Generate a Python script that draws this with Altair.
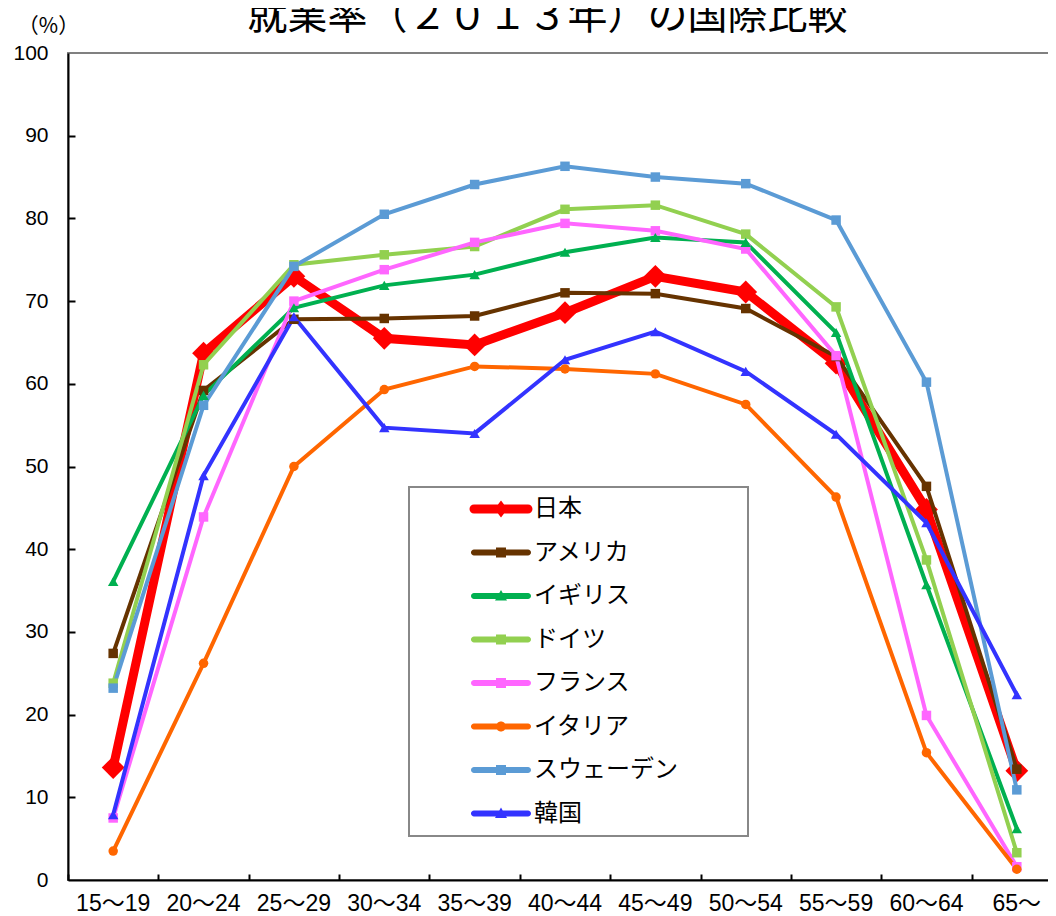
import altair as alt
import pandas as pd

title_text = "就業率（２０１３年）の国際比較"
countries = ["日本", "アメリカ", "イギリス", "ドイツ", "フランス", "イタリア", "スウェーデン", "韓国"]
ages = ["15～19", "20～24", "25～29", "30～34", "35～39", "40～44", "45～49", "50～54", "55～59", "60～64", "65～"]

japan   = [13.6, 63.7, 73.0, 65.5, 64.7, 68.6, 73.0, 71.1, 62.5, 44.8, 13.2]
usa     = [27.4, 59.2, 67.8, 67.9, 68.2, 71.0, 70.9, 69.1, 63.3, 47.6, 13.4]
uk      = [36.1, 58.6, 69.2, 71.9, 73.2, 75.9, 77.7, 77.1, 66.2, 35.7, 6.2]
germany = [23.8, 62.3, 74.4, 75.6, 76.6, 81.1, 81.6, 78.1, 69.3, 38.7, 3.3]
france  = [7.5, 43.9, 70.0, 73.8, 77.1, 79.4, 78.5, 76.3, 63.4, 19.9, 1.6]
italy   = [3.5, 26.2, 50.0, 59.3, 62.1, 61.8, 61.2, 57.5, 46.3, 15.4, 1.3]
sweden  = [23.2, 57.4, 74.2, 80.5, 84.1, 86.3, 85.0, 84.2, 79.8, 60.2, 10.9]
korea   = [7.9, 48.9, 68.1, 54.7, 54.0, 62.9, 66.3, 61.5, 53.9, 43.2, 22.4]

colors = ["#FF0000", "#663300", "#00B050", "#92D050", "#FF66FF", "#FF6600", "#5B9BD5", "#3333FF"]

series = [japan, usa, uk, germany, france, italy, sweden, korea]
rows = []
for c, vals in zip(countries, series):
    for a, v in zip(ages, vals):
        rows.append({"country": c, "age": a, "rate": v})
df = pd.DataFrame(rows)

W, H = 994, 827

# legend symbol paths (rounded line + marker), unit = sqrt(symbolSize)/2 px
def bar_path(h):
    return (f"M-2.7,-{h} L2.7,-{h} A{h},{h} 0 0,1 2.7,{h} "
            f"L-2.7,{h} A{h},{h} 0 0,1 -2.7,-{h} Z ")

bar = bar_path(0.3)
bar_thick = bar_path(0.45)
sq = "M-0.5,-0.5 L0.5,-0.5 L0.5,0.5 L-0.5,0.5 Z"
dia = "M0,-0.85 L0.65,0 L0,0.85 L-0.65,0 Z"
tri = "M0,-0.6 L0.6,0.45 L-0.6,0.45 Z"
cir = "M-0.5,0 A0.5,0.5 0 1,1 0.5,0 A0.5,0.5 0 1,1 -0.5,0 Z"
legend_shapes = [bar_thick + dia, bar + sq, bar + tri, bar + sq, bar + sq, bar + cir, bar + sq, bar + tri]

color_scale = alt.Scale(domain=countries, range=colors)
x_scale = alt.Scale(type="band", domain=ages, paddingInner=0, paddingOuter=0)
y_scale = alt.Scale(domain=[0, 100], nice=False, zero=True)

base = alt.Chart(df)

def X(axis=None):
    return alt.X("age:N", scale=x_scale, sort=ages, bandPosition=0.5, axis=axis)

def Y(axis=None):
    return alt.Y("rate:Q", scale=y_scale, axis=axis)

# legend-only layer (no rows drawn)
legend_layer = base.transform_filter("false").mark_point(filled=True, size=400, opacity=1).encode(
    color=alt.Color("country:N", scale=color_scale, sort=countries,
                    legend=alt.Legend(title=None, orient="none", legendX=341, legendY=434,
                                      labelExpr="datum.label + '\u3000\u3000\u2002\u200b'")),
    shape=alt.Shape("country:N", scale=alt.Scale(domain=countries, range=legend_shapes), sort=countries),
)

title_layer = alt.Chart(pd.DataFrame({"t": [title_text]})).mark_text(
    font="Noto Sans CJK JP", fontSize=40, fontWeight="normal", color="black",
    align="center", baseline="alphabetic",
).encode(text="t:N", x=alt.value(479.5), y=alt.value(-24))

main_x_axis = alt.Axis(title=None, ticks=False, labelFontSize=23, labelColor="black",
                       labelFont="Liberation Sans, Noto Sans CJK JP", labelPadding=12,
                       domainColor="black", domainWidth=2, labelAngle=0, grid=False)
main_y_axis = alt.Axis(values=list(range(0, 101, 10)), ticks=False, labelFontSize=21, labelColor="black",
                       labelFont="Liberation Sans", labelPadding=20, domainColor="black", domainWidth=2,
                       grid=False, title="（%）", titleAngle=0, titleX=-20, titleY=-27, titleAlign="center",
                       titleBaseline="middle", titleFontSize=21, titleFontWeight="normal",
                       titleFont="Noto Sans CJK JP", titleColor="black")

jp = base.transform_filter(alt.datum.country == "日本")
others = base.transform_filter(alt.datum.country != "日本")

line_jp = jp.mark_line(strokeWidth=9).encode(
    x=X(main_x_axis), y=Y(main_y_axis),
    color=alt.Color("country:N", scale=color_scale, legend=None),
)
pts_jp = jp.mark_point(shape="diamond", filled=True, size=520, opacity=1).encode(
    x=X(), y=Y(), color=alt.Color("country:N", scale=color_scale, legend=None),
)
line_ot = others.mark_line(strokeWidth=4).encode(
    x=X(), y=Y(),
    color=alt.Color("country:N", scale=color_scale, legend=None),
    detail="country:N",
)

def pts(names, shape, size, xaxis=None, yaxis=None):
    return base.transform_filter(alt.FieldOneOfPredicate(field="country", oneOf=names)).mark_point(
        shape=shape, filled=True, size=size, opacity=1).encode(
        x=X(xaxis), y=Y(yaxis), color=alt.Color("country:N", scale=color_scale, legend=None))

tick_x_axis = alt.Axis(orient="top", offset=-H, title=None, labels=False, domain=False, ticks=True,
                       tickSize=6, tickWidth=2, tickColor="black", tickBand="extent", grid=False)
tick_y_axis = alt.Axis(orient="right", offset=-W, title=None, labels=False, domain=False, ticks=True,
                       tickSize=7, tickWidth=2, tickColor="black", values=list(range(10, 100, 10)), grid=False)

pts_sq = pts(["アメリカ", "ドイツ", "フランス", "スウェーデン"], "square", 90, tick_x_axis, tick_y_axis)
pts_tri = pts(["イギリス", "韓国"], "triangle-up", 110)
pts_cir = pts(["イタリア"], "circle", 90)

chart = alt.layer(legend_layer, line_jp, pts_jp, line_ot, pts_sq, pts_tri, pts_cir, title_layer).resolve_axis(
    x="independent", y="independent"
).properties(
    width=W, height=H,
    autosize=alt.AutoSizeParams(type="none"),
    padding={"left": 60, "top": 45, "right": -14, "bottom": 35},
).configure_view(
    stroke="#808080", strokeWidth=2
).configure_legend(
    orient="none", legendX=341, legendY=434,
    fillColor="white", strokeColor="#888888", strokeWidth=2,
    padding=10, rowPadding=19.5, symbolSize=400, symbolStrokeWidth=0,
    symbolOffset=70, labelOffset=21, labelFontSize=24, labelFont="Noto Sans CJK JP",
    labelColor="black", labelLimit=400,
)

chart.save("out.html", embed_options={"renderer": "svg", "actions": False})
